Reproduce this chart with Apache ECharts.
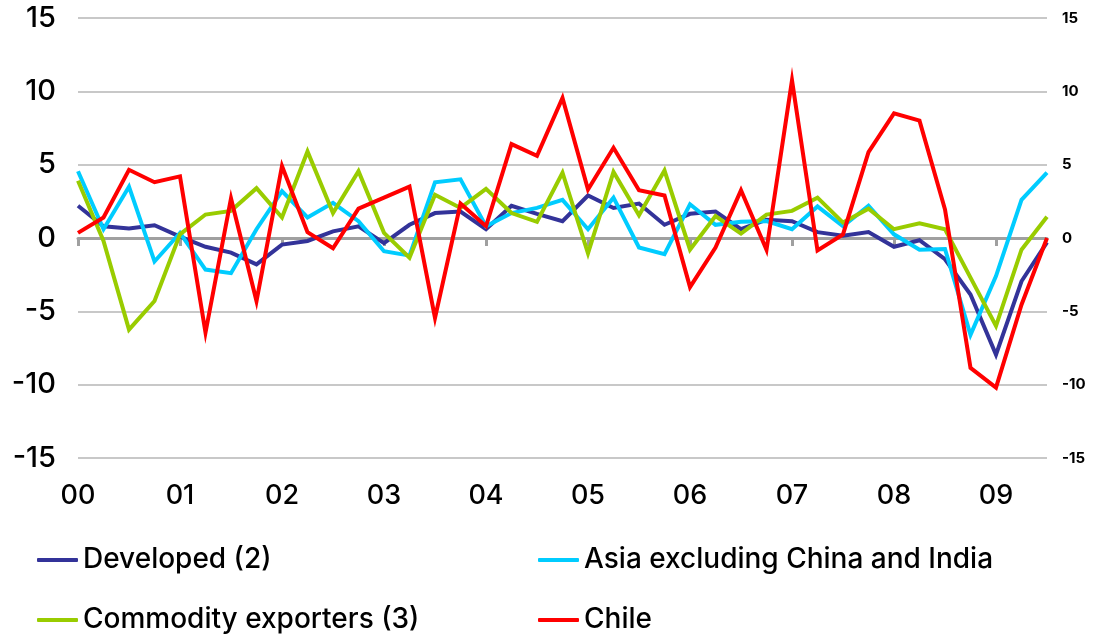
<!DOCTYPE html>
<html>
<head>
<meta charset="utf-8">
<script src="https://cdn.jsdelivr.net/npm/echarts@6/dist/echarts.min.js"></script>
<style>
  html, body { margin: 0; padding: 0; background: #fff; }
  #chart { width: 1100px; height: 637px; }
</style>
</head>
<body>
<div id="chart"></div>
<script>
// Year labels on the category axis (one per four quarters)
const yearLabels = ['00', '01', '02', '03', '04', '05', '06', '07', '08', '09'];
const quartersInLastYear = 3;

// Quarterly categories, 2000 Q1 .. 2009 Q3
const categories = [];
yearLabels.forEach(function (y, k) {
  const n = k === yearLabels.length - 1 ? quartersInLastYear : 4;
  for (let q = 1; q <= n; q++) categories.push(y + 'Q' + q);
});

// Series values (percent)
const developed = [2.2, 0.8, 0.65, 0.87, 0.1, -0.6, -1.0, -1.8, -0.45, -0.2, 0.45,
  0.8, -0.35, 0.9, 1.7, 1.8, 0.6, 2.2, 1.65, 1.15, 2.9,
  2.05, 2.35, 0.9, 1.65, 1.8, 0.6, 1.25, 1.15, 0.4, 0.15,
  0.4, -0.6, -0.15, -1.45, -3.85, -7.95, -2.95, -0.3];

const asiaExChinaIndia = [4.55, 0.6, 3.5, -1.6, 0.35, -2.15, -2.4, 0.6, 3.2, 1.4, 2.4,
  1.15, -0.9, -1.2, 3.8, 4.0, 0.8, 1.7, 2.05, 2.6, 0.6,
  2.75, -0.65, -1.1, 2.3, 0.9, 1.1, 1.15, 0.6, 2.15, 0.8,
  2.2, 0.25, -0.8, -0.75, -6.6, -2.6, 2.6, 4.45];

const commodityExporters = [3.9, -0.2, -6.25, -4.3, 0.25, 1.6, 1.85, 3.4, 1.4, 5.9, 1.7,
  4.55, 0.35, -1.35, 2.95, 2.05, 3.35, 1.7, 1.1, 4.45, -1.05,
  4.5, 1.55, 4.6, -0.8, 1.5, 0.3, 1.6, 1.85, 2.75, 1.05,
  2.0, 0.6, 1.0, 0.6, -2.7, -6.0, -0.8, 1.45];

const chile = [0.35, 1.4, 4.65, 3.8, 4.2, -6.45, 2.7, -4.3, 4.9, 0.4, -0.7,
  2.0, 2.75, 3.5, -5.45, 2.35, 0.8, 6.4, 5.6, 9.55, 3.3,
  6.15, 3.25, 2.9, -3.35, -0.65, 3.25, -0.8, 10.75, -0.85, 0.25,
  5.85, 8.5, 8.0, 1.95, -8.85, -10.2, -4.55, 0.0];

const seriesNames = ['Developed (2)', 'Asia excluding China and India', 'Commodity exporters (3)', 'Chile'];
const seriesColors = ['#333399', '#00ccff', '#99cc00', '#ff0000'];
const seriesData = [developed, asiaExChinaIndia, commodityExporters, chile];

const FONT = 'Inter, "Noto Sans", sans-serif';

const chart = echarts.init(document.getElementById('chart'), null, { renderer: 'canvas' });

const valueAxisBase = {
  type: 'value',
  min: -15,
  max: 15,
  interval: 5,
  axisLine: { show: false },
  axisTick: { show: false }
};

const legendBase = {
  top: 546, orient: 'vertical', itemGap: 32, padding: 0,
  icon: 'roundRect', itemWidth: 41, itemHeight: 4,
  textStyle: { fontSize: 28, fontWeight: 500, color: '#000', fontFamily: FONT }
};

chart.setOption({
  animation: false,
  backgroundColor: '#ffffff',
  grid: { left: 78, right: 53, top: 18, bottom: 179, containLabel: false },
  xAxis: [
    {
      // year labels along the bottom edge
      type: 'category',
      data: categories,
      boundaryGap: false,
      position: 'bottom',
      axisLine: { show: false, onZero: false },
      axisTick: { show: false },
      splitLine: { show: false },
      axisLabel: {
        interval: 3,
        margin: 24,
        color: '#000',
        fontSize: 27,
        fontWeight: 500,
        fontFamily: FONT,
        formatter: function (v) { return v.slice(0, 2); }
      }
    },
    {
      // zero line with yearly tick marks
      type: 'category',
      data: categories,
      boundaryGap: false,
      position: 'bottom',
      axisLine: { show: true, onZero: true, lineStyle: { color: '#a0a0a0', width: 3 } },
      axisTick: { show: true, interval: 3, length: 8, lineStyle: { color: '#a0a0a0', width: 3 } },
      axisLabel: { show: false },
      splitLine: { show: false }
    }
  ],
  yAxis: [
    Object.assign({}, valueAxisBase, {
      position: 'left',
      splitLine: { show: true, lineStyle: { color: '#c8c8c8', width: 2 } },
      axisLabel: { margin: 22, color: '#000', fontSize: 29, fontWeight: 500, fontFamily: FONT }
    }),
    Object.assign({}, valueAxisBase, {
      position: 'right',
      splitLine: { show: false },
      axisLabel: { margin: 15, color: '#000', fontSize: 15, fontWeight: 'bold', fontFamily: FONT }
    })
  ],
  legend: [
    Object.assign({}, legendBase, { left: 37, data: [seriesNames[0], seriesNames[2]] }),
    Object.assign({}, legendBase, { left: 538, data: [seriesNames[1], seriesNames[3]] })
  ],
  series: seriesNames.map(function (name, i) {
    return {
      name: name,
      type: 'line',
      xAxisIndex: 0,
      yAxisIndex: 0,
      data: seriesData[i],
      showSymbol: false,
      symbol: 'none',
      color: seriesColors[i],
      lineStyle: { color: seriesColors[i], width: 4, join: 'miter' },
      z: 2 + i
    };
  })
});
</script>
</body>
</html>
